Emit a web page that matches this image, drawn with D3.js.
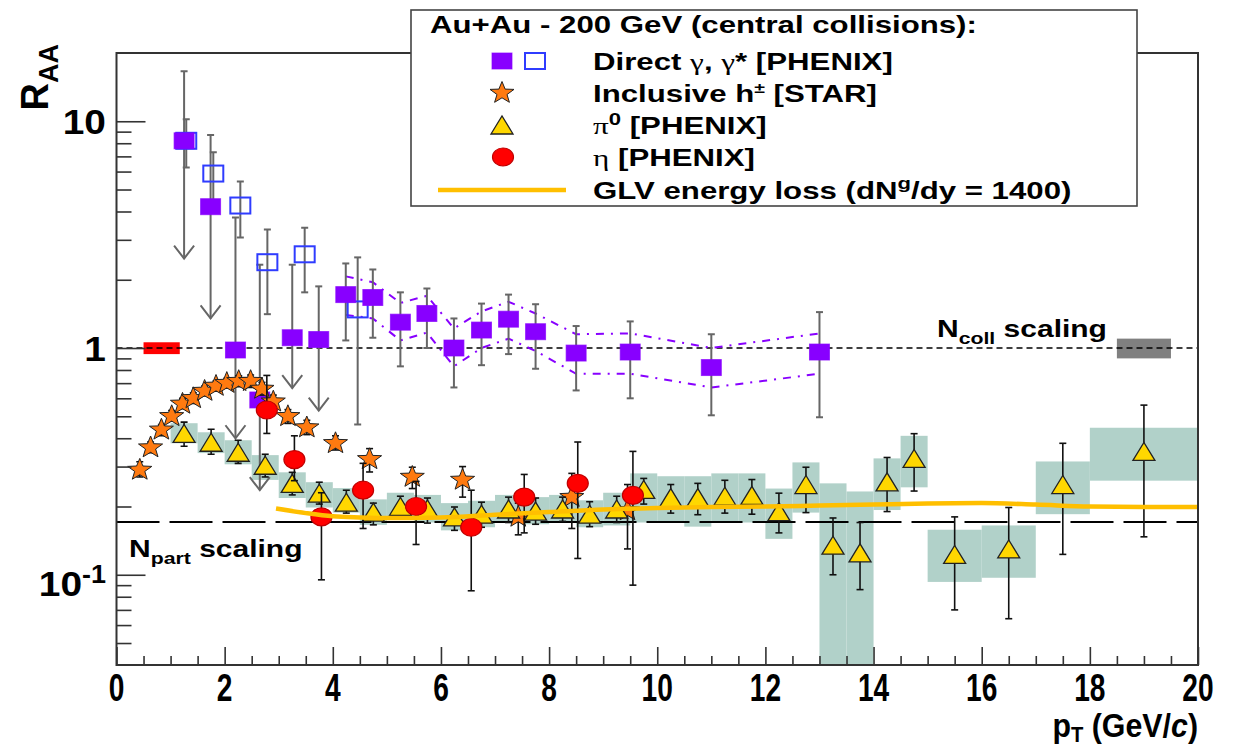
<!DOCTYPE html>
<html><head><meta charset="utf-8">
<script src="https://cdn.jsdelivr.net/npm/d3@7/dist/d3.min.js"></script>
<style>
body{margin:0;background:#fff}
svg{display:block}
text{font-family:"Liberation Sans",Arial,Helvetica,sans-serif;font-weight:bold;fill:#000}
</style>
</head><body>
<svg id="chart" width="1249" height="749"></svg>
<script>
// ---------------- DATA ----------------
// Direct photons (filled squares) [PHENIX]
const directPt    = [1.25,1.74,2.2,2.65,3.25,3.74,4.24,4.74,5.25,5.74,6.24,6.75,7.25,7.75,8.5,9.5,11.0,13.0];
const directVal   = [8.2,4.2,0.98,0.59,1.11,1.09,1.72,1.67,1.30,1.42,1.00,1.20,1.34,1.18,0.95,0.96,0.82,0.96];
const directLo    = [2.48,1.35,0.40,0.236,0.665,0.53,1.08,1.11,0.83,1.00,0.67,0.84,0.94,0.81,0.65,0.60,0.505,0.495];
const directHi    = [16.6,8.7,3.76,2.33,2.33,1.87,2.36,2.22,1.76,1.83,1.35,1.57,1.72,1.56,1.25,1.31,1.15,1.44];
const directLimit = [1,1,1,1,1,1,0,0,0,0,0,0,0,0,0,0,0,0];
// Direct photon systematic band (dash-dot lines)
const bandPt    = [4.24,4.74,5.25,5.74,6.24,6.75,7.25,7.75,8.5,9.5,11.0,13.0];
const bandUpper = [2.07,1.95,1.58,1.70,1.22,1.45,1.60,1.42,1.15,1.16,1.00,1.16];
const bandLower = [1.40,1.35,1.08,1.17,0.83,1.00,1.10,0.97,0.77,0.77,0.67,0.77];
// Virtual photons (open squares)
const gstarPt  = [1.29,1.79,2.29,2.79,3.48,4.46];
const gstarVal = [8.2,5.88,4.25,2.39,2.59,1.48];
const gstarLo  = [6.25,4.47,3.07,1.41,1.76,0.46];
const gstarHi  = [10.2,7.3,5.42,3.33,3.39,2.51];
// Inclusive h+- [STAR]
const hPt  = [0.43,0.63,0.83,1.02,1.22,1.42,1.63,1.84,2.04,2.26,2.48,2.69,2.9,3.17,3.52,4.05,4.68,5.47,6.4,7.43,8.42,9.45];
const hVal = [0.29,0.364,0.436,0.50,0.567,0.60,0.646,0.68,0.70,0.714,0.714,0.66,0.58,0.50,0.446,0.38,0.323,0.27,0.262,0.18,0.22,0.192];
const hLo  = [0.27,0.345,0.41,0.475,0.54,0.57,0.615,0.645,0.665,0.675,0.67,0.62,0.54,0.465,0.415,0.355,0.284,0.24,0.22,0.15,0.16,0.13];
const hHi  = [0.315,0.385,0.46,0.53,0.60,0.635,0.68,0.715,0.735,0.755,0.76,0.705,0.62,0.535,0.48,0.41,0.36,0.298,0.30,0.207,0.28,0.25];
// pi0 [PHENIX]
const piPt  = [1.25,1.75,2.25,2.75,3.25,3.75,4.25,4.75,5.25,5.75,6.25,6.75,7.25,7.75,8.25,8.75,9.25,9.75,10.25,10.75,11.25,11.75,12.25,12.75,13.25,13.75,14.25,14.75,15.5,16.5,17.5,19.0];
const piVal = [0.42,0.384,0.347,0.304,0.253,0.229,0.209,0.189,0.20,0.195,0.18,0.185,0.195,0.191,0.195,0.185,0.195,0.238,0.219,0.219,0.222,0.224,0.19,0.25,0.135,0.125,0.257,0.326,0.123,0.13,0.25,0.35];
const piLo  = [0.369,0.34,0.31,0.27,0.225,0.205,0.187,0.166,0.18,0.169,0.157,0.162,0.17,0.167,0.172,0.163,0.17,0.205,0.187,0.184,0.187,0.185,0.153,0.188,0.10,0.086,0.19,0.234,0.07,0.064,0.123,0.147];
const piHi  = [0.471,0.438,0.392,0.34,0.283,0.256,0.236,0.207,0.222,0.218,0.199,0.209,0.22,0.218,0.22,0.21,0.222,0.266,0.25,0.253,0.261,0.263,0.229,0.298,0.178,0.17,0.329,0.419,0.18,0.198,0.38,0.56];
const piSysLo = [0.38,0.344,0.307,0.262,0.218,0.198,0.188,0.166,0.176,0.17,0.157,0.162,0.17,0.167,0.17,0.162,0.165,0.17,0.17,0.163,0.17,0.17,0.144,0.188,0.03,0.03,0.193,0.243,0.093,0.097,0.185,0.26];
const piSysHi = [0.466,0.425,0.392,0.337,0.283,0.256,0.241,0.215,0.23,0.225,0.207,0.212,0.225,0.22,0.225,0.213,0.23,0.28,0.272,0.272,0.28,0.28,0.24,0.313,0.253,0.233,0.326,0.41,0.158,0.165,0.316,0.445];
const piSysW  = [0.5,0.5,0.5,0.5,0.5,0.5,0.5,0.5,0.5,0.5,0.5,0.5,0.5,0.5,0.5,0.5,0.5,0.5,0.5,0.5,0.5,0.5,0.5,0.5,0.5,0.5,0.5,0.5,1,1,1,2];
// eta [PHENIX]
const etaPt  = [2.78,3.29,3.79,4.56,5.54,6.56,7.54,8.53,9.55];
const etaVal = [0.533,0.322,0.18,0.236,0.20,0.162,0.22,0.253,0.224];
const etaLo  = [0.42,0.26,0.095,0.16,0.136,0.085,0.153,0.118,0.09];
const etaHi  = [0.757,0.41,0.23,0.31,0.258,0.236,0.277,0.385,0.35];
// GLV energy loss curve
const glvPt  = [2.95,3.5,4,4.5,5,6,7,8,9,10,11,12,13,14,15,16,17,18,19,20];
const glvVal = [0.196,0.187,0.181,0.179,0.178,0.179,0.184,0.189,0.194,0.197,0.199,0.2,0.202,0.204,0.206,0.207,0.204,0.2,0.199,0.199];
// reference lines and normalisation boxes
const ncollLevel = 1, npartLevel = 0.171;
const normBoxRed  = [0.5,1.17,0.94,1.06];
const normBoxGrey = [18.5,19.5,0.9,1.1];
// axis ticks
const xMajor = [0,2,4,6,8,10,12,14,16,18,20];
const yMajor = [0.1,1,10];

// ---------------- CHART ----------------
const svg = d3.select("#chart");
const W = 1249, H = 749;
svg.append("rect").attr("width",W).attr("height",H).attr("fill","#fff");
const L=116.5, R=1198, T=53, B=665;
const x = d3.scaleLinear().domain([0,20]).range([L,R]);
const y = d3.scaleLog().domain([0.04,20]).range([B,T]);

const plot = svg.append("g");
svg.append("clipPath").attr("id","clp").append("rect").attr("x",L).attr("y",T).attr("width",R-L).attr("height",B-T);
const pg = plot.append("g").attr("clip-path","url(#clp)");

const C = {purple:"#8800ff", blue:"#2f3cff", orange:"#ff7a10", gold:"#ffd700", red:"#ff0000", box:"#b1d1c9", glv:"#ffbf00", grey:"#666"};

// systematic boxes for pi0
pg.selectAll("rect.sys").data(piPt).enter().append("rect")
  .attr("x",(d,i)=>x(d-piSysW[i]/2)).attr("width",(d,i)=>x(d+piSysW[i]/2)-x(d-piSysW[i]/2))
  .attr("y",(d,i)=>y(piSysHi[i])).attr("height",(d,i)=>y(piSysLo[i])-y(piSysHi[i]))
  .attr("fill",C.box);

// normalisation boxes
pg.append("rect").attr("x",x(normBoxRed[0])).attr("width",x(normBoxRed[1])-x(normBoxRed[0]))
  .attr("y",y(normBoxRed[3])).attr("height",y(normBoxRed[2])-y(normBoxRed[3])).attr("fill","#ff0000");
pg.append("rect").attr("x",x(normBoxGrey[0])).attr("width",x(normBoxGrey[1])-x(normBoxGrey[0]))
  .attr("y",y(normBoxGrey[3])).attr("height",y(normBoxGrey[2])-y(normBoxGrey[3])).attr("fill","#808080");

// reference lines
pg.append("line").attr("x1",L).attr("x2",R).attr("y1",y(ncollLevel)).attr("y2",y(ncollLevel))
  .attr("stroke","#000").attr("stroke-width",1.6).attr("stroke-dasharray","6,4");
pg.append("line").attr("x1",L).attr("x2",R).attr("y1",y(npartLevel)).attr("y2",y(npartLevel))
  .attr("stroke","#000").attr("stroke-width",2).attr("stroke-dasharray","43,10");

// direct photon band
const ln = d3.line().x(d=>x(d[0])).y(d=>y(d[1]));
[bandUpper,bandLower].forEach(arr=>{
  pg.append("path").attr("d",ln(bandPt.map((p,i)=>[p,arr[i]]))).attr("fill","none")
    .attr("stroke",C.purple).attr("stroke-width",2).attr("stroke-dasharray","8,7,2,7");
});

// error bar helper
function ebars(g, pts, lo, hi, color, sw, capTop, capBot){
  const cw = 3.5;
  pts.forEach((p,i)=>{
    const xx=x(p);
    g.append("line").attr("x1",xx).attr("x2",xx).attr("y1",y(hi[i])).attr("y2",y(lo[i])).attr("stroke",color).attr("stroke-width",sw);
    if(capTop) g.append("line").attr("x1",xx-cw).attr("x2",xx+cw).attr("y1",y(hi[i])).attr("y2",y(hi[i])).attr("stroke",color).attr("stroke-width",sw);
    if(capBot && !(capBot[i])) g.append("line").attr("x1",xx-cw).attr("x2",xx+cw).attr("y1",y(lo[i])).attr("y2",y(lo[i])).attr("stroke",color).attr("stroke-width",sw);
  });
}
// direct photon error bars (grey) with arrows for upper limits
ebars(pg, directPt, directLo, directHi, C.grey, 2, true, directLimit);
directPt.forEach((p,i)=>{
  if(directLimit[i]){
    const xx=x(p), yy=y(directLo[i]);
    pg.append("path").attr("d",`M${xx-10},${yy-13}L${xx},${yy}L${xx+10},${yy-13}`).attr("fill","none").attr("stroke",C.grey).attr("stroke-width",2);
  }
});
ebars(pg, gstarPt, gstarLo, gstarHi, C.grey, 2, true, gstarPt.map(()=>0));

// markers
function sq(g, cx, cy, filled){
  g.append("rect").attr("x",cx-10).attr("y",cy-8).attr("width",20).attr("height",16)
   .attr("fill",filled?C.purple:"none").attr("stroke",filled?C.purple:C.blue).attr("stroke-width",filled?1:2).attr("stroke-opacity",filled?0.7:1);
}
function starPath(cx,cy,ro,ri){
  let d="";
  for(let k=0;k<10;k++){const a=-Math.PI/2+k*Math.PI/5, r=k%2?ri:ro; d+=(k?"L":"M")+(cx+1.1*r*Math.cos(a)).toFixed(1)+","+(cy+r*Math.sin(a)).toFixed(1);}
  return d+"Z";
}
function star(g,cx,cy){g.append("path").attr("d",starPath(cx,cy,11.5,4.8)).attr("fill",C.orange).attr("stroke","#222").attr("stroke-width",1);}
function tri(g,cx,cy){g.append("path").attr("d",`M${cx-11},${cy+9}L${cx+11},${cy+9}L${cx},${cy-9}Z`).attr("fill",C.gold).attr("stroke","#222").attr("stroke-width",1.3);}
function circ(g,cx,cy){g.append("ellipse").attr("cx",cx).attr("cy",cy).attr("rx",10.5).attr("ry",9).attr("fill",C.red).attr("stroke","#c00000").attr("stroke-width",1.2);}

gstarPt.forEach((p,i)=>sq(pg,x(p),y(gstarVal[i]),false));
directPt.forEach((p,i)=>sq(pg,x(p),y(directVal[i]),true));

ebars(pg, hPt, hLo, hHi, "#111", 1.6, true, hPt.map(()=>0));
hPt.forEach((p,i)=>star(pg,x(p),y(hVal[i])));
ebars(pg, piPt, piLo, piHi, "#111", 1.6, true, piPt.map(()=>0));
piPt.forEach((p,i)=>tri(pg,x(p),y(piVal[i])));
ebars(pg, etaPt, etaLo, etaHi, "#111", 1.6, true, etaPt.map(()=>0));
etaPt.forEach((p,i)=>circ(pg,x(p),y(etaVal[i])));

// GLV curve
pg.append("path").attr("d",d3.line().curve(d3.curveMonotoneX).x(d=>x(d[0])).y(d=>y(d[1]))(glvPt.map((p,i)=>[p,glvVal[i]])))
  .attr("fill","none").attr("stroke",C.glv).attr("stroke-width",4.5);

// ---------------- AXES ----------------
const yMinor = [];
[0.01,0.1,1,10].forEach(dec=>{for(let k=2;k<=9;k++){const v=k*dec; if(v>0.04 && v<20) yMinor.push(v);}});
const xMinor = d3.range(0,20.01,0.5).filter(v=>Math.abs(v/2-Math.round(v/2))>1e-6);

const axStyle = g=>{g.select(".domain").remove(); g.selectAll("line").attr("stroke","#333").attr("stroke-width",1.6);};
svg.append("g").attr("transform",`translate(${L},0)`).call(d3.axisLeft(y).tickValues(yMajor).tickSize(-29).tickFormat("")).call(axStyle);
svg.append("g").attr("transform",`translate(${L},0)`).call(d3.axisLeft(y).tickValues(yMinor).tickSize(-15).tickFormat("")).call(axStyle);
svg.append("g").attr("transform",`translate(0,${B})`).call(d3.axisBottom(x).tickValues(xMajor).tickSize(-18).tickFormat("")).call(axStyle);
svg.append("g").attr("transform",`translate(0,${B})`).call(d3.axisBottom(x).tickValues(xMinor).tickSize(-9).tickFormat("")).call(axStyle);

// frame
svg.append("rect").attr("x",L).attr("y",T).attr("width",R-L).attr("height",B-T).attr("fill","none").attr("stroke","#333").attr("stroke-width",2);

// x tick labels (condensed)
xMajor.forEach(v=>{
  svg.append("text").attr("transform",`translate(${x(v)},701) scale(0.74,1.04)`).attr("text-anchor","middle")
    .style("font-size","38px").text(v);
});
// y tick labels
const yl = (v, base, sup, by)=>{
  const t = svg.append("text").attr("transform",`translate(106,${by}) scale(1.08,1)`).attr("text-anchor","end").style("font-size","36px");
  t.append("tspan").text(base);
  if(sup){ t.append("tspan").attr("dy",-13).style("font-size","25px").text(sup); }
};
yl(10,"10",null,y(10)+13);
yl(1,"1",null,y(1)+13);
yl(0.1,"10","-1",y(0.1)+21);

// axis titles
const ry = svg.append("text").attr("transform","translate(48,44) rotate(-90)").attr("text-anchor","end").style("font-size","38px");
ry.append("tspan").text("R");
ry.append("tspan").attr("dy",10).style("font-size","27px").text("AA");

const px = svg.append("text").attr("transform","translate(1198,737) scale(0.92,1)").attr("text-anchor","end").style("font-size","33px");
px.append("tspan").text("p");
px.append("tspan").attr("dy",5).style("font-size","22px").text("T");
px.append("tspan").attr("dy",-5).text(" (GeV/");
px.append("tspan").style("font-style","italic").text("c");
px.append("tspan").text(")");

// scaling labels
function stext(xx,yy,main,sub,rest){
  const t = svg.append("text").attr("transform",`translate(${xx},${yy}) scale(1.25,1)`).style("font-size","24px");
  t.append("tspan").text(main);
  t.append("tspan").attr("dy",7).style("font-size","17px").text(sub);
  t.append("tspan").attr("dy",-7).text(rest);
}
stext(937,337,"N","coll"," scaling");
stext(129,557,"N","part"," scaling");

// ---------------- LEGEND ----------------
const lg = svg.append("g");
lg.append("rect").attr("x",411).attr("y",10).attr("width",1137-411).attr("height",206-10).attr("fill","#fff").attr("stroke","#444").attr("stroke-width",1.6);
const SX = 1.3;
function ltext(xx,yy,parts){
  const t = lg.append("text").attr("transform",`translate(${xx},${yy}) scale(${SX},1)`).style("font-size","24px");
  parts.forEach(p=>{
    const s=t.append("tspan").text(p.t);
    if(p.serif) s.style("font-family","'Liberation Serif','Times New Roman',serif").style("font-weight","normal");
    if(p.dy) s.attr("dy",p.dy);
    if(p.fs) s.style("font-size",p.fs);
  });
}
ltext(430,33,[{t:"Au+Au - 200 GeV (central collisions):"}]);
const rows=[61,93,125,157,190];
sq(lg,502,rows[0],true); sq(lg,535,rows[0],false);
star(lg,502,rows[1]);
tri(lg,502,rows[2]);
circ(lg,503,rows[3]);
lg.append("line").attr("x1",438).attr("x2",566).attr("y1",rows[4]).attr("y2",rows[4]).attr("stroke",C.glv).attr("stroke-width",4.5);
ltext(593,rows[0]+8.5,[{t:"Direct "},{t:"γ",serif:1},{t:", "},{t:"γ",serif:1},{t:"* [PHENIX]"}]);
ltext(593,rows[1]+8.5,[{t:"Inclusive h"},{t:"±",dy:-9,fs:"15px"},{t:" [STAR]",dy:9}]);
ltext(593,rows[2]+8.5,[{t:"π",serif:1},{t:"0",dy:-9,fs:"17px"},{t:" [PHENIX]",dy:9}]);
ltext(593,rows[3]+8.5,[{t:"η",serif:1},{t:" [PHENIX]"}]);
ltext(593,rows[4]+8.5,[{t:"GLV energy loss (dN"},{t:"g",dy:-10,fs:"17px"},{t:"/dy = 1400)",dy:10}]);
</script>
</body></html>
